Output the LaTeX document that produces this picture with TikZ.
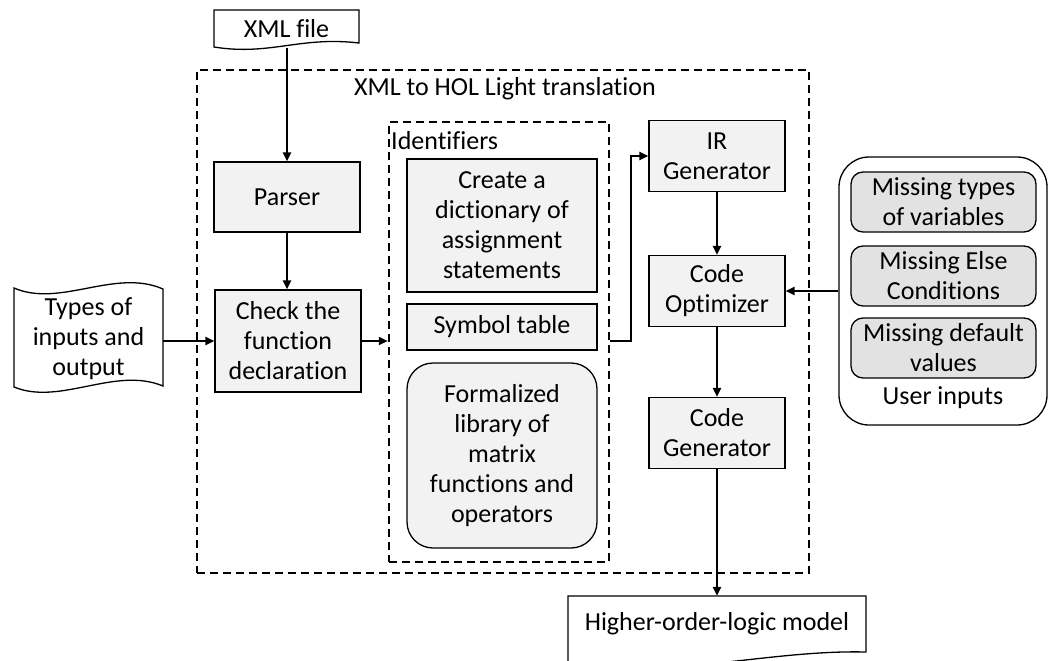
\documentclass[tikz,border=0pt]{standalone}
\usepackage{fontspec}
\setmainfont[Ligatures=NoCommon]{Carlito}
\usetikzlibrary{arrows.meta}
\definecolor{boxfill}{RGB}{242,242,242}
\definecolor{userfill}{RGB}{226,226,226}
\begin{document}
\begin{tikzpicture}[x=1pt,y=-1pt,
  txt/.style={font=\fontsize{26}{30}\selectfont, align=center, inner sep=0pt},
  box/.style={txt, draw, line width=1.3pt, fill=boxfill},
  ubox/.style={txt, draw, line width=1.3pt, fill=userfill, rounded corners=12pt},
  dbox/.style={draw, line width=2.5pt, dash pattern=on 8pt off 5pt},
  arr/.style={line width=2.2pt, -{Triangle[length=9pt,width=8pt]}},
  doc/.style={draw, line width=1.3pt, fill=white}]
\useasboundingbox (0,0) rectangle (1052,661);
\clip (0,0) rectangle (1052,661);

% outer translation box
\node[dbox, minimum width=612pt, minimum height=503pt] (outer) at (503,321.5) {};
\node[txt] (title) at (505,89) {XML to HOL Light translation};

% identifiers box
\node[dbox, minimum width=220pt, minimum height=440pt] (ident) at (499,342) {};
\node[txt, anchor=west] (identlbl) at (391,141) {Identifiers};

% XML file document
\draw[doc] (214,10) -- (359,10) -- (359,43) .. controls (300,36) and (270,56) .. (214,47) -- cycle;
\node[txt, minimum width=145pt, minimum height=38pt] (xml) at (286.5,29) {XML file};

% Types document
\draw[doc] (14,288) .. controls (60,308) and (115,268) .. (163,289) -- (163,386)
  .. controls (115,366) and (60,406) .. (14,387) -- cycle;
\node[txt, minimum width=149pt, minimum height=100pt] (types) at (88.5,339) {Types of\\inputs and\\output};

% HOL model document
\draw[doc] (568,596) -- (866,596) -- (866,652) .. controls (780,650) and (700,672) .. (568,672) -- cycle;
\node[txt, minimum width=298pt, minimum height=56pt] (hol) at (717,624) {Higher-order-logic model};

% main boxes
\node[box, minimum width=146pt, minimum height=70pt] (parser) at (287,197) {Parser};
\node[box, minimum width=146pt, minimum height=102pt] (check) at (288,341) {Check the\\function\\declaration};

\node[box, minimum width=190pt, minimum height=133pt] (dict) at (502,225.5) {Create a\\dictionary of\\assignment\\statements};
\node[box, minimum width=190pt, minimum height=46pt] (sym) at (502,327) {Symbol table};
\node[box, rounded corners=26pt, minimum width=190pt, minimum height=185pt] (lib) at (502,455.5) {Formalized\\library of\\matrix\\functions and\\operators};

\node[box, minimum width=136pt, minimum height=71pt] (ir) at (717,156) {IR\\Generator};
\node[box, minimum width=136pt, minimum height=71pt] (opt) at (717,291) {Code\\Optimizer};
\node[box, minimum width=136pt, minimum height=71pt] (gen) at (717,433) {Code\\Generator};

% user inputs
\node[draw, line width=1.3pt, rounded corners=30pt, minimum width=208pt, minimum height=268pt] (user) at (943,291) {};
\node[ubox, minimum width=185pt, minimum height=60pt] (u1) at (943.5,202) {Missing types\\of variables};
\node[ubox, minimum width=185pt, minimum height=60pt] (u2) at (943.5,276) {Missing Else\\Conditions};
\node[ubox, minimum width=185pt, minimum height=60pt] (u3) at (943.5,348) {Missing default\\values};
\node[txt] (userlbl) at (943,398) {User inputs};

% connectors
\draw[arr] (xml.south -| parser.north) -- (parser.north);
\draw[arr] (parser.south) -- (parser.south |- check.north);
\draw[arr] (types.east |- check.west) -- (check.west);
\draw[arr] (check.east) -- (ident.west |- check.east);
\draw[arr] (ident.east |- check.east) -- ++(21,0) |- (ir.west);
\draw[arr] (ir.south) -- (opt.north);
\draw[arr] (opt.south) -- (gen.north);
\draw[arr] (gen.south) -- (hol.north);
\draw[arr] (user.west |- opt.east) -- (opt.east);
\end{tikzpicture}
\end{document}
